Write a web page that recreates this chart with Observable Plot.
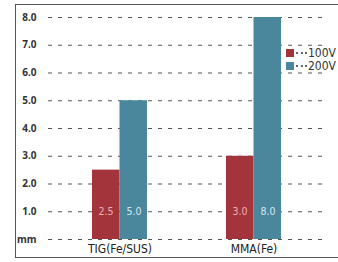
<!DOCTYPE html>
<html><head><meta charset="utf-8">
<script src="https://cdn.jsdelivr.net/npm/d3@7"></script>
<script src="https://cdn.jsdelivr.net/npm/@observablehq/plot@0.6"></script>
<style>
body{margin:0;background:#fff;}
#wrap{position:relative;width:338px;height:262px;overflow:hidden;background:#fff;}
#border{position:absolute;left:15px;top:4px;width:340px;height:254px;border:1.5px solid #555;border-right:none;box-sizing:border-box;}
#legend{position:absolute;left:286px;top:46px;font:12px "DejaVu Sans Condensed",sans-serif;color:#333;}
.item{display:flex;align-items:center;height:13.5px;line-height:13.5px;}
.sw{width:8px;height:8px;margin-right:2px;flex:none;}
.dots{width:11px;height:0;border-top:2px dotted #666;margin-right:1px;flex:none;}
.lab{line-height:1;display:block;}
svg{position:absolute;left:0;top:0;}
</style></head>
<body><div id="wrap"><div id="border"></div></div>
<script>
const categories = ["TIG(Fe/SUS)", "MMA(Fe)"];
const series = ["100V", "200V"];
const values100 = [2.5, 3.0];
const values200 = [5.0, 8.0];
const yTicks = [0, 1, 2, 3, 4, 5, 6, 7, 8];
const yTickLabels = ["mm", "1.0", "2.0", "3.0", "4.0", "5.0", "6.0", "7.0", "8.0"];
const labelY = 1.0;
const colors = ["#a3343b", "#4a879c"];
const labelColors = ["#f0b0b4", "#d4e8f0"];

const data = categories.map((c, i) => ({category: c, v100: values100[i], v200: values200[i]}));
const cond = "'DejaVu Sans Condensed',sans-serif";

const chart = Plot.plot({
  width: 338, height: 262,
  marginLeft: 48, marginRight: 15, marginTop: 17, marginBottom: 23,
  style: {background: "transparent"},
  x: {domain: categories, paddingInner: 0.591, paddingOuter: 0.318, align: 0.515, axis: null, label: null},
  y: {domain: [0, 8], axis: null, label: null},
  marks: [
    Plot.ruleY(yTicks, {stroke: "#555", strokeWidth: 1.2, strokeDasharray: "4,6"}),
    Plot.barY(data, {x: "category", y: "v100", fill: colors[0], insetRight: 27.5}),
    Plot.barY(data, {x: "category", y: "v200", fill: colors[1], insetLeft: 27.5}),
    Plot.text(data, {x: "category", y: () => labelY, text: d => d.v100.toFixed(1), dx: -14, fill: labelColors[0], fontSize: 10.5, fontFamily: cond}),
    Plot.text(data, {x: "category", y: () => labelY, text: d => d.v200.toFixed(1), dx: 14, fill: labelColors[1], fontSize: 10.5, fontFamily: cond}),
    Plot.axisY(yTicks, {tickFormat: d => yTickLabels[d], tickSize: 0, tickPadding: 12, fontSize: 10, fontWeight: "bold", fill: "#333", label: null}),
    Plot.axisX(categories, {tickSize: 0, tickPadding: 5, fontSize: 12, fill: "#222", fontFamily: cond, label: null})
  ]
});
document.getElementById("wrap").appendChild(chart);

const legend = document.createElement("div");
legend.id = "legend";
series.forEach((s, i) => {
  const item = document.createElement("div");
  item.className = "item";
  item.innerHTML = `<span class="sw" style="background:${colors[i]}"></span><span class="dots"></span><span class="lab">${s}</span>`;
  legend.appendChild(item);
});
document.getElementById("wrap").appendChild(legend);
</script></body></html>
